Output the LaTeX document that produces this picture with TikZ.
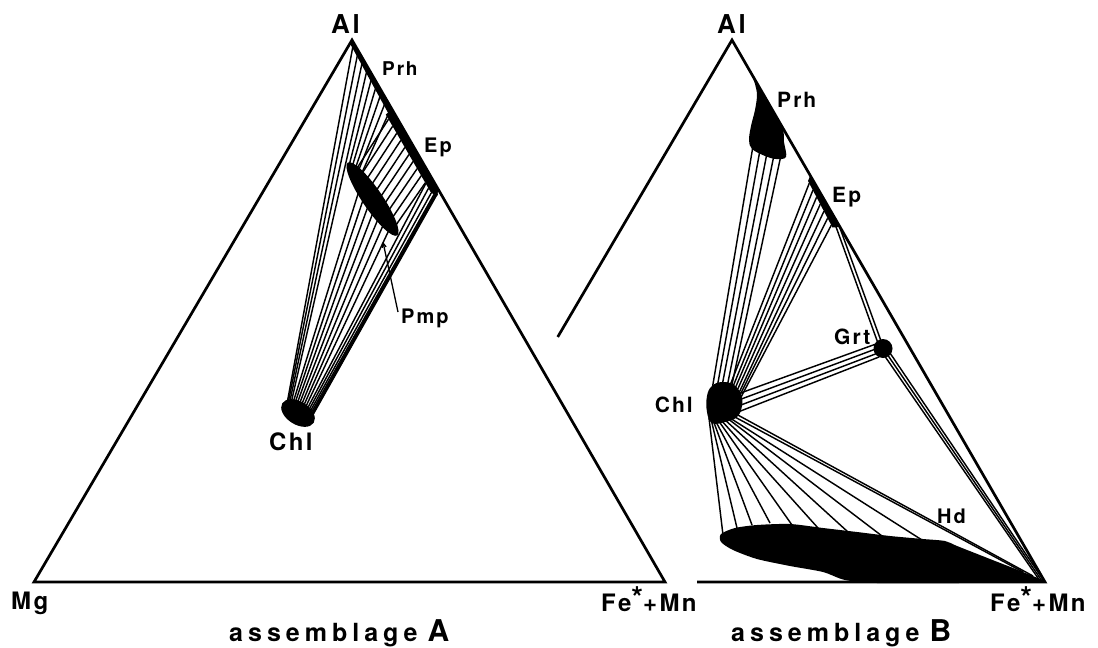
\documentclass[tikz,border=0pt]{standalone}
\usepackage{fontspec}
\newfontfamily\labfont[LetterSpace=10]{TeX Gyre Heros}
\newfontfamily\capfont[LetterSpace=20]{TeX Gyre Heros}
\usetikzlibrary{calc,arrows.meta}
\begin{document}
\begin{tikzpicture}[x=1pt,y=-1pt,
  triline/.style={line width=2.7pt,line join=miter,line cap=butt},
  tieline/.style={line width=1.45pt},
  lab/.style={font=\labfont\bfseries\fontsize{#1}{#1}\selectfont,inner sep=0pt,anchor=base west},
  capt/.style={font=\capfont\bfseries\fontsize{25}{25}\selectfont,inner sep=0pt,anchor=base west}]
\useasboundingbox (0,0) rectangle (1098,648);
\fill[white] (0,0) rectangle (1098,648);

% ================= assemblage A =================
\coordinate (LA) at (352,40);
\coordinate (LB) at (34,582);
\coordinate (LC) at (665,582);
\coordinate (PmpT) at (348,163);
\coordinate (PmpB) at (397,235);
\coordinate (PmpR1) at (356,166);
\coordinate (PmpR2) at (396,228);
\coordinate (EpI1) at (385.8,114.5);
\coordinate (EpI2) at (431.2,193);
\coordinate (ChlA) at (298,413);

\begin{scope}[shift={(ChlA)},rotate=-32]
  \foreach \k in {1,...,18} \coordinate (cA\k) at ({178+9.65*\k}:14 and 8.5);
\end{scope}
\foreach \s [count=\k] in {0.005,0.02,0.035,0.05}
  \coordinate (sA\k) at ($(LA)!\s!(LC)$);
\foreach \w [count=\k from 5] in {0.275,0.375,0.475,0.575,0.675,0.775,0.875}
  \coordinate (sA\k) at ($(PmpT)!\w!(PmpB)$);
\foreach \u [count=\k from 12] in {0.88,0.94,1.0}
  \coordinate (sA\k) at ($(EpI1)!\u!(EpI2)$);
\coordinate (sA15) at (434.5,193.5);
\coordinate (sA16) at (435.5,194);
\coordinate (sA17) at (436.5,194);
\coordinate (sA18) at (437.5,193.5);
\foreach \k in {1,...,18} \draw[tieline] (sA\k) -- (cA\k);

% Prh - Pmp
\foreach \s/\w in {0.065/0.025,0.08/0.075,0.095/0.125,0.11/0.175,0.125/0.225}
  \draw[tieline] ($(LA)!\s!(LC)$) -- ($(PmpT)!\w!(PmpB)$);
% Ep - Pmp
\foreach \i in {0,...,9}{
  \pgfmathsetmacro\fa{0.06+0.09*\i}
  \pgfmathsetmacro\fb{0.03+0.105*\i}
  \draw[tieline] ($(EpI1)!\fa!(EpI2)$) -- ($(PmpR1)!\fb!(PmpR2)$);
}

% phases
\fill (LA) -- ($(LA)!0.13!(LC)$) -- ++(-4.5,2.6) -- ($(LA)+(-1.2,5)$) -- cycle;
\fill ($(LA)!0.128!(LC)$) -- ($(LA)!0.275!(LC)$) -- (437.5,195.5) -- (EpI2) -- (EpI1) -- cycle;
\fill[rotate around={-55.8:(372.5,199)}] (372.5,199) ellipse [x radius=44, y radius=10];
\fill[rotate around={-32:(ChlA)}] (ChlA) ellipse [x radius=18.5, y radius=11.5];

\draw[triline] (LA) -- (LB) -- (LC) -- cycle;

\node[lab=26] (alL) at (331,33) {Al};
\node[lab=19] (prhL) at (382,75) {Prh};
\node[lab=20] (epL) at (424,152) {Ep};
\node[lab=20] (pmpL) at (401,323) {Pmp};
\node[lab=24] (chlL) at (269,450) {Chl};
\node[lab=24] (mgL) at (11,609) {Mg};
\node[lab=24] (feL) at (601,611) {Fe\raisebox{3pt}{\fontsize{30}{30}\selectfont *}+Mn};
\coordinate (pmpTip) at (383,242);
\draw[line width=1.3pt,-{Straight Barb[length=4pt,width=4pt]}] ($(pmpL.base west)+(-3,-11)$) -- (pmpTip);
\node[capt] (capA) at (229,641) {assemblage\hspace{10pt}{\fontsize{30}{30}\selectfont A}};

% ================= assemblage B =================
\coordinate (RA) at (732,40);
\coordinate (RC) at (1045,582);
\coordinate (RL) at (557.7,337);
\coordinate (RB) at (697,582);
\coordinate (EpRI1) at (808,181);
\coordinate (EpRI2) at (832.5,227.5);

% Prh - Chl
\foreach \a/\b/\c/\d in {753/146/712/390, 760/150/717/388, 767/153/722/386, 774/155/727/387, 781/155/731/389}
  \draw[tieline] (\a,\b) -- (\c,\d);
% Ep - Chl
\foreach \u/\c/\d in {0.05/729/388, 0.2/732/389, 0.35/734/391, 0.5/736/393, 0.65/738/395, 0.8/739/397, 0.95/740/399}
  \draw[tieline] ($(EpRI1)!\u!(EpRI2)$) -- (\c,\d);
% Ep - Grt
\draw[tieline] (835,224) -- (879,346);
\draw[tieline] (838.5,224) -- (882.5,345);
% Grt - Chl
\foreach \a/\b/\c/\d in {735/395/876/344, 736/401/877/348.5, 737/406.5/878/353, 738/412/879/357}
  \draw[tieline] (\a,\b) -- (\c,\d);
% Grt - corner
\foreach \a/\b/\c/\d in {884/355/1040/581, 887/354/1042/581, 890/353/1044/581}
  \draw[tieline] (\a,\b) -- (\c,\d);
% Chl - Hd
\foreach \a/\b/\c/\d in {709/418/723/535, 711/419/737/528, 713/420/752/525, 715/420/770/523, 718/420/792/525, 721/420/818/528, 724/419/848/532, 727/418/882/536, 730/418/922/540, 733/416/1023/572, 736/414/1033/576}
  \draw[tieline] (\a,\b) -- (\c,\d);

% phases
\fill plot[smooth cycle, tension=0.55] coordinates {(752.8,76) (767,100) (782.2,127) (784,142) (786,157) (776,159) (765,156) (752,149) (749,140) (751,126) (755,110) (757,95) (755,84)};
\fill ($(RA)!0.25!(RC)$) -- ($(RA)!0.345!(RC)$) -- (EpRI2) -- (EpRI1) -- cycle;
\fill (883,348.5) circle (9.5);
\fill plot[smooth cycle, tension=0.7] coordinates {(707,396) (712,386) (722,382) (734,385) (741,395) (742,406) (737,417) (725,422) (712,423) (707,412)};
\fill plot[smooth cycle, tension=0.45] coordinates {(721,534) (735,528) (757,525) (790,524) (823,528) (857,532) (890,536) (923,539) (945,541) (957,546) (990,559) (1023,572) (1045,582) (1020,582.5) (957,583) (877,583) (845,580) (823,572) (790,566) (757,559) (733,550) (721,542)};

\draw[triline] (RL) -- (RA) -- (RC) -- (RB);

\node[lab=26] (alR) at (717,33) {Al};
\node[lab=21] (prhR) at (777,107) {Prh};
\node[lab=21] (epR) at (832,202) {Ep};
\node[lab=21] (grtR) at (834,344) {Grt};
\node[lab=21,anchor=base east] (chlR) at (693,412) {Chl};
\node[lab=20] (hdR) at (937,523) {Hd};
\node[lab=24] (feR) at (990,611) {Fe\raisebox{3pt}{\fontsize{30}{30}\selectfont *}+Mn};
\node[capt] (capB) at (731,641) {assemblage\hspace{10pt}{\fontsize{30}{30}\selectfont B}};
\end{tikzpicture}
\end{document}
